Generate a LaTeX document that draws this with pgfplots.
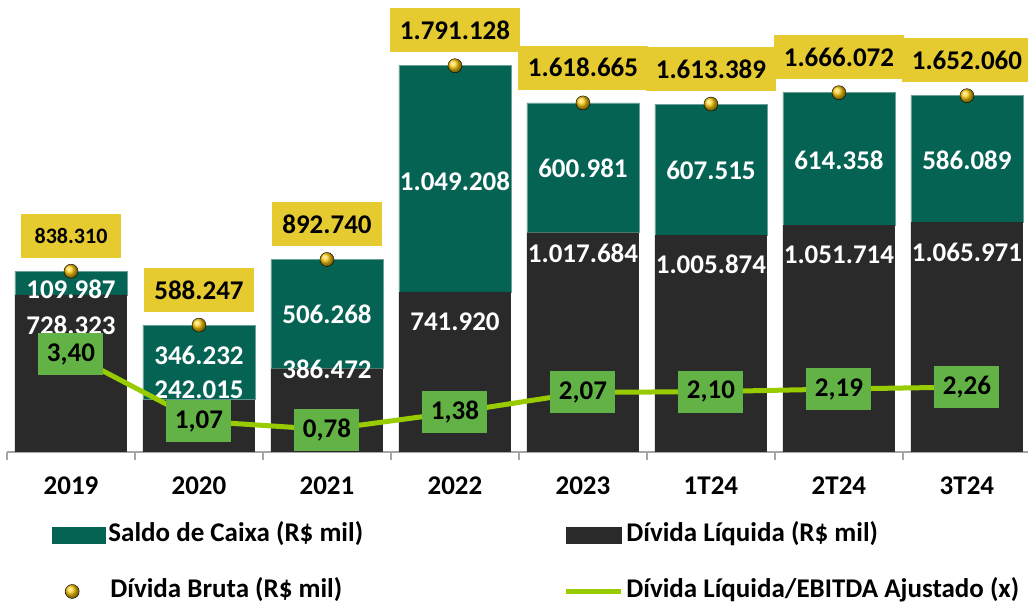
\documentclass[border=0pt]{standalone}
\usepackage{fontspec}
\setmainfont{Carlito}
\usepackage{pgfplots}
\pgfplotsset{compat=1.18}
\definecolor{cxgreen}{HTML}{056354}
\definecolor{dlgray}{HTML}{2A2A2A}
\definecolor{goldbox}{HTML}{E5CB30}
\definecolor{ratiobox}{HTML}{63B245}
\definecolor{ratioline}{HTML}{99CC00}
\definecolor{ballgold}{HTML}{FFCC10}
\definecolor{axgray}{HTML}{A6A6A6}
\pgfplotsset{
  common/.style={
    at={(7pt,152pt)}, anchor=south west, scale only axis,
    width=1024pt, height=442pt, xmin=-0.5, xmax=7.5, clip=false,
  },
}
\begin{document}
\begin{tikzpicture}[font=\fontsize{27}{31}\selectfont\bfseries]
\useasboundingbox (0pt,0pt) rectangle (1028pt,604pt);
% ---- Axis A: stacked bars
\begin{axis}[common,
  ymin=0, ymax=2049430,
  ybar stacked, bar width=112pt,
  axis x line*=bottom, axis y line=none,
  x axis line style={-, draw=axgray, line width=1.2pt},
  xtick={0,...,7},
  xticklabels={2019,2020,2021,2022,2023,1T24,2T24,3T24},
  major tick length=0pt,
  minor xtick={-0.5,0.5,...,7.5},
  minor tick length=8pt, tick align=outside,
  minor tick style={draw=axgray, line width=1.2pt},
  xticklabel style={font=\fontsize{27}{31}\selectfont\bfseries, anchor=base, yshift=-43pt},
  ytick=\empty,
]
\addplot[fill=dlgray, draw=none] coordinates {
  (0,728323) (1,242015) (2,386472) (3,741920) (4,1017684) (5,1005874) (6,1051714) (7,1065971)};
\addplot[fill=cxgreen, draw=cxgreen!60!white, line width=0.6pt] coordinates {
  (0,109987) (1,346232) (2,506268) (3,1049208) (4,600981) (5,607515) (6,614358) (7,586089)};
\end{axis}
% ---- Axis B: gross debt and bar labels
\begin{axis}[common, ymin=0, ymax=2049430, hide axis]
\addplot[only marks, mark=*, mark size=0pt, nodes near coords, point meta=explicit symbolic,
  every node near coord/.append style={anchor=center, text=white, font=\fontsize{27}{31}\selectfont\bfseries}]
  coordinates {
  (0,755800)[109.987] (1,449800)[346.232] (2,639900)[506.268] (3,1256600)[1.049.208]
  (4,1316900)[600.981] (5,1307600)[607.515] (6,1354000)[614.358] (7,1354000)[586.089]};
\addplot[only marks, mark=*, mark size=0pt, nodes near coords, point meta=explicit symbolic,
  every node near coord/.append style={anchor=center, text=white, font=\fontsize{27}{31}\selectfont\bfseries}]
  coordinates {
  (0,588900)[728.323] (1,287500)[242.015] (2,384900)[386.472] (3,602800)[741.920]
  (4,922800)[1.017.684] (5,871800)[1.005.874] (6,913500)[1.051.714] (7,927400)[1.065.971]};
\addplot[only marks, mark=ball, mark size=7pt, mark options={ball color=ballgold, draw=none},
  nodes near coords, point meta=explicit symbolic,
  every node near coord/.append style={anchor=south, yshift=13pt, fill=goldbox, text=black,
    minimum width=100pt, minimum height=44pt, inner xsep=10pt, inner ysep=0pt,
    font=\fontsize{27}{31}\selectfont\bfseries}]
  coordinates {
  (0,838310)[{\fontsize{22}{25}\selectfont 838.310}] (1,588247)[588.247] (2,892740)[892.740]
  (3,1791128)[1.791.128] (4,1618665)[1.618.665] (5,1613389)[1.613.389]
  (6,1666072)[1.666.072] (7,1652060)[1.652.060]};
\end{axis}
% ---- Axis C: ratio line and legend
\begin{axis}[common, ymin=0, ymax=15.369, hide axis,
  legend columns=2,
  legend style={draw=none, fill=none, inner sep=0pt, outer sep=0pt,
    column sep=0pt, row sep=31pt,
    at={(axis description cs:0.04395,-0.1606)}, anchor=north west,
    font=\fontsize{27}{31}\selectfont\bfseries,
    nodes={inner sep=0pt, text height=19pt, text depth=6pt, anchor=west}},
]
\addplot[ratioline, line width=5pt, mark=*, mark size=0pt, forget plot,
  nodes near coords, point meta=explicit symbolic,
  every node near coord/.append style={anchor=center, fill=ratiobox, text=black,
    minimum width=65pt, minimum height=42pt, inner sep=0pt,
    font=\fontsize{27}{31}\selectfont\bfseries}]
  coordinates {
  (0,3.40)[{3,40}] (1,1.07)[{1,07}] (2,0.78)[{0,78}] (3,1.38)[{1,38}]
  (4,2.07)[{2,07}] (5,2.10)[{2,10}] (6,2.19)[{2,19}] (7,2.26)[{2,26}]};
\addlegendimage{legend image code/.code={\fill[cxgreen] (0pt,-8pt) rectangle (53pt,8pt);}}
\addlegendentry{\makebox[458pt][l]{\hspace{3pt}Saldo de Caixa (R\$ mil)}}
\addlegendimage{legend image code/.code={\fill[dlgray] (0pt,-8pt) rectangle (55pt,8pt);}}
\addlegendentry{\hspace{3pt}Dívida Líquida (R\$ mil)}
\addlegendimage{legend image code/.code={\path[draw=none, fill=none] (0pt,-1pt) rectangle (53pt,1pt);
  \draw[only marks, draw=none, mark=ball, mark size=7pt, mark options={ball color=ballgold, draw=none}] plot coordinates {(20pt,0pt)};}}
\addlegendentry{\makebox[458pt][l]{\hspace{5pt}Dívida Bruta (R\$ mil)}}
\addlegendimage{legend image code/.code={\draw[ratioline, line width=5pt] (0pt,0pt) -- (55pt,0pt);}}
\addlegendentry{\hspace{3pt}Dívida Líquida/EBITDA Ajustado (x)}
\end{axis}
\end{tikzpicture}
\end{document}
